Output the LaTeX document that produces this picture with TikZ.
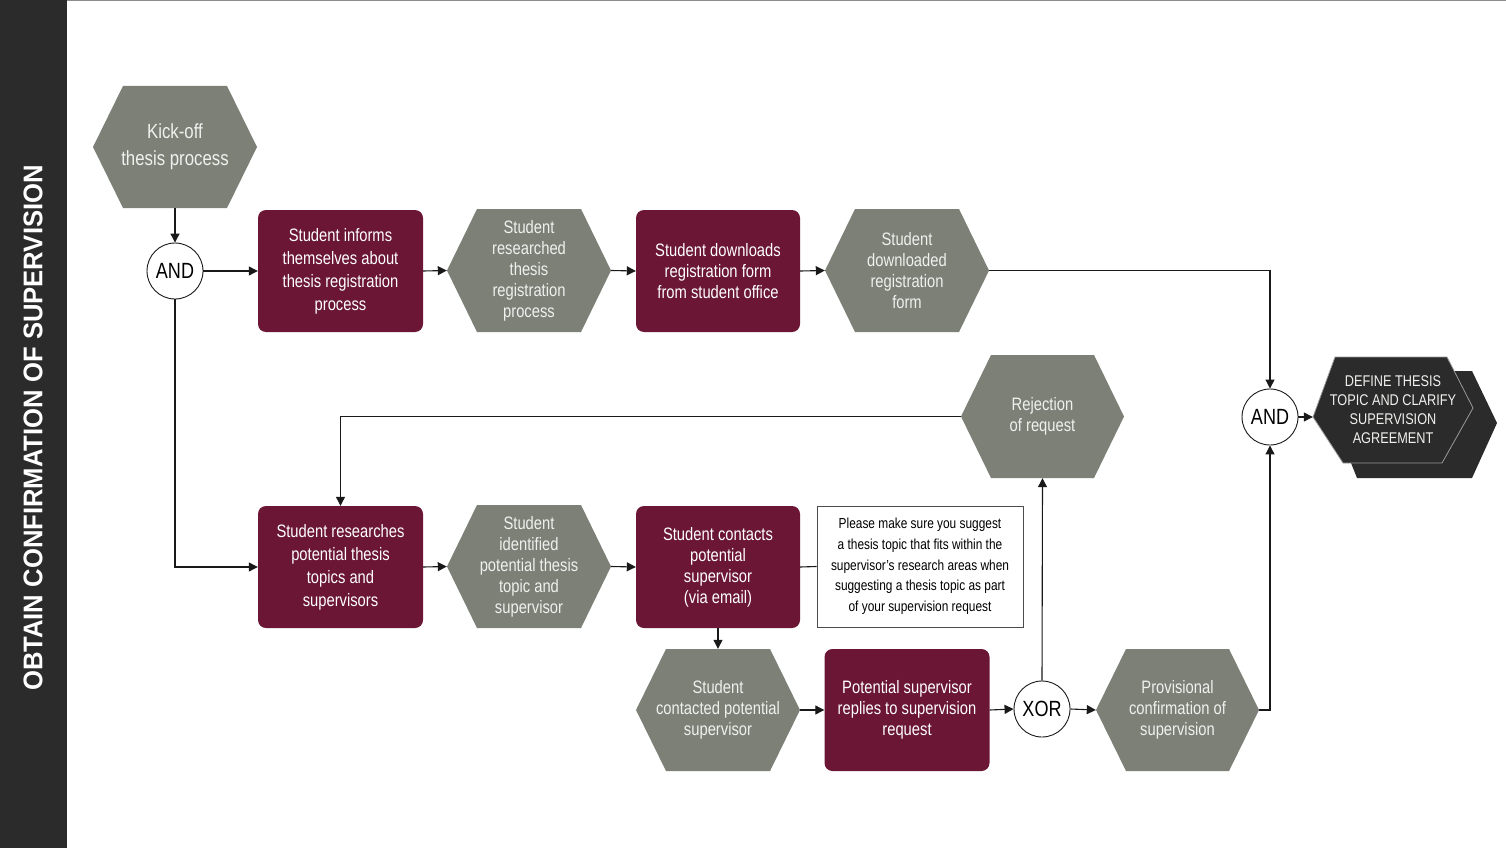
\documentclass[tikz,border=0pt]{standalone}
\usepackage{fontspec}
\setmainfont{Liberation Sans}
\newfontfamily\nar[FakeStretch=0.82]{Liberation Sans}
\newfontfamily\narb[FakeStretch=0.95]{Liberation Sans}
\usetikzlibrary{arrows.meta}
\definecolor{hexgray}{RGB}{124,128,119}
\definecolor{maroon}{RGB}{106,22,52}
\definecolor{darkc}{RGB}{43,43,43}
\definecolor{hextext}{RGB}{240,240,238}
\definecolor{linec}{RGB}{25,25,25}
\tikzset{
  base/.style={font=\nar\fontsize{18}{21}\selectfont, text=white, align=center, inner sep=0pt},
  proc/.style={base, rectangle, rounded corners=8pt, fill=maroon, minimum width=165pt, minimum height=122pt},
  hexn/.style={base, rectangle, minimum width=164pt, minimum height=123pt, text=hextext,
    path picture={\fill[hexgray] (path picture bounding box.west) -- ([xshift=30pt]path picture bounding box.north west) -- ([xshift=-30pt]path picture bounding box.north east) -- (path picture bounding box.east) -- ([xshift=-30pt]path picture bounding box.south east) -- ([xshift=30pt]path picture bounding box.south west) -- cycle;}},
  gate/.style={circle, draw=linec, line width=0.9pt, fill=white, minimum size=56pt, inner sep=0pt, font=\nar\fontsize{22}{22}\selectfont},
  arr/.style={draw=linec, line width=1.1pt, -{Triangle[length=9pt,width=9pt]}},
  conn/.style={draw=linec, line width=1.1pt},
  notebox/.style={rectangle, draw=black!70, line width=0.9pt, fill=white, minimum width=206pt, minimum height=121pt, align=center, inner sep=0pt, font=\nar\fontsize{14.5}{20.7}\selectfont}
}
\begin{document}
\begin{tikzpicture}[x=1pt,y=-1pt]
\useasboundingbox (0,0) rectangle (1506,848);
\fill[white] (0,0) rectangle (1506,848);
\draw[black!45, line width=1pt] (67,0.5) -- (1506,0.5);
\fill[darkc] (0,0) rectangle (67,848);
\node[rotate=90, text=white, font=\narb\bfseries\fontsize{27}{27}\selectfont, inner sep=0pt] (side) at (33,428) {OBTAIN CONFIRMATION OF SUPERVISION};

% row 0
\node[hexn, minimum width=164pt, minimum height=122pt, font=\nar\fontsize{20.5}{27}\selectfont] (kick) at (175,147) {Kick-off\\thesis process};
\node[gate] (and1) at (175,271) {AND};

% row 1
\node[proc, font=\nar\fontsize{18}{23}\selectfont] (b1) at (340.5,271) {Student informs\\themselves about\\thesis registration\\process};
\node[hexn] (h2) at (529,270.5) {Student\\researched\\thesis\\registration\\process};
\node[proc, minimum width=164pt] (b3) at (718,271) {Student downloads\\registration form\\from student office};
\node[hexn] (h4) at (907,270.5) {Student\\downloaded\\registration\\form};

% rejection
\node[hexn, minimum width=163pt] (rej) at (1042.5,416.5) {Rejection\\of request};

% end event (stacked hexagons)
\fill[darkc] (1335,423) -- (1357,371) -- (1472,371) -- (1497,423) -- (1472,478) -- (1357,478) -- cycle;
\filldraw[fill=darkc, draw=black!40, line width=0.8pt] (1313,417) -- (1335,357) -- (1447,357) -- (1473,408) -- (1442,463) -- (1343,463) -- cycle;
\node[base, minimum width=160pt, minimum height=106pt, font=\nar\fontsize{15.5}{19}\selectfont, text=hextext] (def) at (1393,410) {DEFINE THESIS\\TOPIC AND CLARIFY\\SUPERVISION\\AGREEMENT};
\node[gate] (and2) at (1270,417) {AND};

% row 2
\node[proc, font=\nar\fontsize{18}{23}\selectfont] (b5) at (340.5,567) {Student researches\\potential thesis\\topics and\\supervisors};
\node[hexn] (h6) at (529,566.5) {Student\\identified\\potential thesis\\topic and\\supervisor};
\node[proc, minimum width=164pt] (b7) at (718,567) {Student contacts\\potential\\supervisor\\(via email)};
\node[notebox] (note) at (920,566.5) {Please make sure you suggest\\a thesis topic that fits within the\\supervisor’s research areas when\\suggesting a thesis topic as part\\of your supervision request};

% row 3
\node[hexn, minimum height=122pt] (h8) at (718,710) {Student\\contacted potential\\supervisor};
\node[proc] (b9) at (907,710) {Potential supervisor\\replies to supervision\\request};
\node[gate] (xor) at (1042,709) {XOR};
\node[hexn, minimum width=163pt, minimum height=122pt] (h10) at (1177.5,710) {Provisional\\confirmation of\\supervision};

% connectors
\draw[arr] (kick.south) -- (and1.north);
\draw[arr] (and1.east) -- (b1.west);
\draw[arr] (b1.east) -- (h2.west);
\draw[arr] (h2.east) -- (b3.west);
\draw[arr] (b3.east) -- (h4.west);
\draw[arr] (h4.east) -| (and2.north);
\draw[arr] (and2.east) -- (and2.east -| def.west);
\draw[arr] (and1.south) |- (b5.west);
\draw[arr] (b5.east) -- (h6.west);
\draw[arr] (h6.east) -- (b7.west);
\draw[conn] (b7.east) -- (note.west);
\draw[arr] (b7.south) -- (h8.north);
\draw[arr] (h8.east) -- (b9.west);
\draw[arr] (b9.east) -- (xor.west);
\draw[arr] (xor.east) -- (h10.west);
\draw[arr] (h10.east) -| (and2.south);
\draw[arr] (xor.north) -- (rej.south);
\draw[arr] (rej.west) -| (b5.north);
\end{tikzpicture}
\end{document}
